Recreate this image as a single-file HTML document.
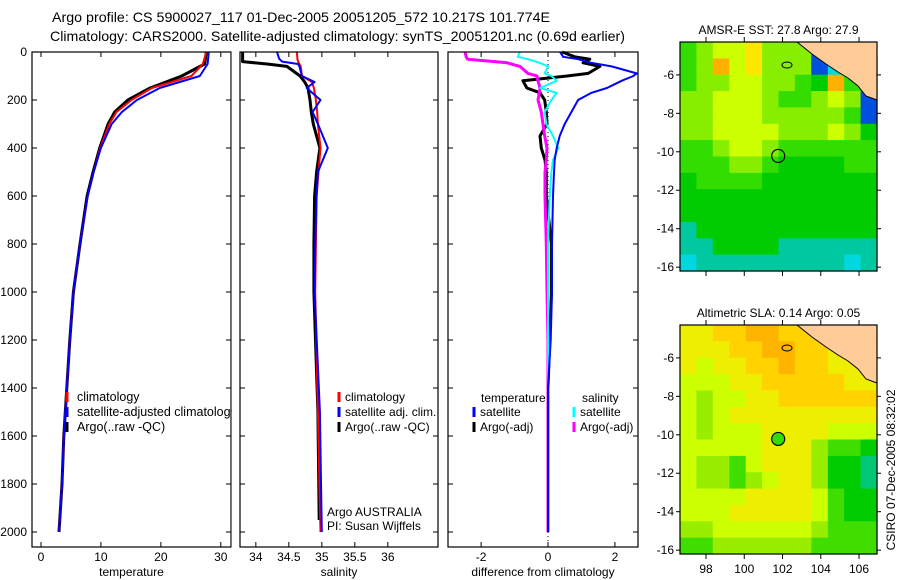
<!DOCTYPE html>
<html><head><meta charset="utf-8"><style>
body{margin:0;background:#fff;}
svg{display:block;font-family:"Liberation Sans",sans-serif;}
text{fill:#000;}
</style></head><body>
<svg id="fig" width="900" height="580" xmlns="http://www.w3.org/2000/svg">
<text x="52" y="22" font-size="14" textLength="498" lengthAdjust="spacingAndGlyphs">Argo profile: CS 5900027_117 01-Dec-2005 20051205_572 10.217S 101.774E</text>
<text x="50" y="41" font-size="14" textLength="575" lengthAdjust="spacingAndGlyphs">Climatology: CARS2000. Satellite-adjusted climatology: synTS_20051201.nc (0.69d earlier)</text>
<g id="g"></g>
</svg>
<script>
// ---- data ----
const tDepth = [0,50,100,150,200,250,300,400,500,600,800,1000,1200,1400,1600,1800,2000];
const tClim  = [27.6,27.0,25.1,18.5,15.1,12.6,11.4,9.9,8.8,7.8,6.5,5.4,4.8,4.3,3.8,3.5,3.0];
const tSat   = [28.0,27.8,26.5,19.8,16.0,13.5,11.8,10.0,8.8,7.8,6.5,5.4,4.8,4.3,3.8,3.5,3.0];
const tArgo  = [27.6,27.3,23.5,18.2,14.5,12.3,11.2,9.8,8.7,7.7,6.5,5.4,4.8,4.3,3.8,3.5,3.0];
const sDepth = [0,25,30,40,50,60,100,125,150,200,250,300,400,500,600,800,1000,1500,2000];
const sClim  = [34.62,34.63,34.63,34.64,34.66,34.68,34.70,34.85,34.88,34.91,34.93,34.94,34.98,34.95,34.92,34.91,34.90,34.94,34.98];
const sSat   = [34.32,34.35,34.36,34.40,34.64,34.66,34.70,34.89,34.77,34.98,34.86,34.94,35.09,34.94,34.92,34.90,34.89,34.97,35.00];
const sArgo  = [33.80,33.80,33.80,33.80,34.17,34.47,34.67,34.74,34.79,34.82,34.84,34.87,34.97,34.92,34.89,34.88,34.88,34.94,34.97];
const dDepth = [0,20,30,45,60,89,100,120,150,170,200,250,300,350,400,450,500,600,800,1000,1200,1400,1600,1800,2000];
const dTSat  = [0.36,0.45,0.9,1.3,1.9,2.65,2.55,2.2,1.76,1.3,0.9,0.7,0.5,0.35,0.26,0.2,0.18,0.15,0.12,0.12,0.08,0.0,0.0,0.0,0.0];
const dTArgo = [0.42,0.8,1.25,1.05,1.55,1.2,0.57,-0.75,-0.63,-0.24,-0.1,-0.05,-0.03,-0.24,-0.2,-0.09,-0.05,-0.05,0.1,0.1,0.05,0.0,0.0,0.0,0.0];
const dSSat  = [-0.84,-0.9,-0.6,-0.25,0.0,-0.1,0.1,0.26,-0.24,0.26,0.1,-0.1,-0.05,0.15,0.3,0.15,0.1,0.05,0.0,0.0,0.0,0.0,0.0,0.0,0.0];
const dSArgo = [-2.48,-2.45,-2.4,-1.22,-0.84,-0.6,-0.33,-0.3,-0.24,-0.26,-0.3,-0.2,-0.15,-0.1,-0.03,-0.05,-0.09,-0.09,-0.05,-0.03,0.0,0.0,0.0,0.0,0.0];
const depthTicks = [0,200,400,600,800,1000,1200,1400,1600,1800,2000];
const tTicks = [0,10,20,30];
const sTicks = [34,34.5,35,35.5,36];
const dTicks = [-2,0,2];
const sstGrid = [
[5,6,7,7,8,6,6,6,1,8,8,8],
[5,6,9,7,8,6,6,6,1,2,5,4],
[5,6,6,7,7,6,6,5,4,9,5,4],
[6,6,7,7,7,6,5,5,6,7,6,1],
[6,6,7,7,7,6,6,6,6,6,5,1],
[6,6,7,7,7,7,6,6,6,7,6,4],
[5,5,6,7,7,6,5,5,5,5,5,5],
[5,5,5,6,6,5,4,4,4,4,5,5],
[4,5,5,5,5,4,4,4,4,4,4,4],
[4,4,4,4,4,4,4,4,4,4,4,4],
[4,4,4,4,4,4,4,4,4,4,4,4],
[3,4,4,4,4,4,4,4,4,4,4,4],
[3,3,4,4,4,4,3,3,3,3,3,3],
[2,3,3,3,3,3,3,3,3,3,2,3]];
const slaGrid = [
[8,8,9,9,10,10,9,9,9,8,8,7],
[8,8,8,9,9,10,10,9,9,8,8,7],
[8,7,8,8,9,9,10,9,9,8,8,7],
[7,7,7,8,8,9,9,9,9,9,8,8],
[7,6,7,7,8,8,9,9,9,9,9,9],
[7,6,7,8,8,8,8,8,8,8,8,8],
[7,6,7,7,7,8,8,8,8,7,7,7],
[7,7,7,7,7,8,8,8,6,5,5,4],
[7,6,6,5,7,8,8,8,6,4,4,3],
[7,6,6,5,6,7,8,8,6,4,4,3],
[7,7,7,7,8,8,8,8,7,5,4,4],
[7,7,7,8,8,8,8,8,7,5,4,4],
[6,6,7,7,7,7,7,7,6,5,5,5],
[5,5,6,6,6,6,6,6,5,5,5,5]];
const lonTicks = [98,100,102,104,106];
const latTicks = [-6,-8,-10,-12,-14,-16];
const argoLon = 101.774, argoLat = -10.217;

const NS="http://www.w3.org/2000/svg";
const G=document.getElementById('g');
function el(tag,attrs,parent){const e=document.createElementNS(NS,tag);for(const k in attrs)e.setAttribute(k,attrs[k]);(parent||G).appendChild(e);return e;}
function txt(x,y,s,attrs,parent){const e=el('text',Object.assign({x:x,y:y,'font-size':12},attrs||{}),parent);e.textContent=s;return e;}

const Y0=52, PXM=0.24;
const yD=d=>Y0+d*PXM;
const PT=52, PB=547;

function panel(name,x0,x1,xmin,xmax,ticks,fmt,label){
  const g=el('g',{});
  
  
  const sx=v=>x0+(v-xmin)/(xmax-xmin)*(x1-x0);
  ticks.forEach(t=>{const x=sx(t);
    el('line',{x1:x,x2:x,y1:PB,y2:PB-5,stroke:'#000'},g);
    el('line',{x1:x,x2:x,y1:PT,y2:PT+5,stroke:'#000'},g);
    const l=txt(x,PB+14,fmt(t),{'text-anchor':'middle'},g);
    
    
  });
  depthTicks.forEach(d=>{const y=yD(d);
    el('line',{x1:x0,x2:x0+5,y1:y,y2:y,stroke:'#000'},g);
    el('line',{x1:x1,x2:x1-5,y1:y,y2:y,stroke:'#000'},g);
  });
  const xl=txt((x0+x1)/2,PB+29,label,{'text-anchor':'middle'},g);
  
  
  return {g,sx};
}
function line(p,vals,depths,color,w,name){
  const pts=vals.map((v,i)=>p.sx(v).toFixed(1)+','+yD(depths[i]).toFixed(1)).join(' ');
  const e=el('polyline',{points:pts,fill:'none',stroke:color,'stroke-width':w,'stroke-linejoin':'round'},p.g);
  
  
}
function frame(p,x0,x1){el('rect',{x:x0,y:PT,width:x1-x0,height:PB-PT,fill:'none',stroke:'#000','stroke-width':1.2},p.g);}
function legend(p,x,y,color,label,name,gap,fs){
  const e=el('g',{},p.g);
  
  
  el('line',{x1:x,x2:x,y1:y-9,y2:y+1,stroke:color,'stroke-width':3},e);
  txt(x+(gap||6),y,label,{'font-size':fs||12},e);
}

depthTicks.forEach(d=>{const l=txt(27,yD(d)+4,String(d),{'text-anchor':'end'});
  
  });

const p1=panel('temperature-panel',32,231,-1.5,31.7,tTicks,String,'temperature');
line(p1,tArgo,tDepth,'#000',3,'argo-temperature-line');
line(p1,tClim,tDepth,'#f00',2,'climatology-temperature-line');
line(p1,tSat,tDepth,'#00f',2,'satellite-temperature-line');
legend(p1,67,401,'#f00','climatology','legend-climatology',10,12.5);
legend(p1,67,416,'#00f','satellite-adjusted climatology','legend-satellite',10,12.5);
legend(p1,67,431,'#000','Argo(..raw -QC)','legend-argo',10,12.5);
frame(p1,32,231);

const p2=panel('salinity-panel',240,438,33.76,36.76,sTicks,t=>String(t),'salinity');
el('rect',{x:231.6,y:PT-2,width:8,height:PB-PT+4,fill:'#fff'},p2.g);
line(p2,sArgo.slice(0,18).concat([34.96]),sDepth.slice(0,18).concat([1950]),'#000',3,'argo-salinity-line');
line(p2,sClim,sDepth,'#f00',2,'climatology-salinity-line');
line(p2,sSat,sDepth,'#00f',2,'satellite-salinity-line');
legend(p2,339,401,'#f00','climatology','legend-sal-climatology');
legend(p2,339,416,'#00f','satellite adj. clim.','legend-sal-satellite');
legend(p2,339,431,'#000','Argo(..raw -QC)','legend-sal-argo');
txt(327,516,'Argo AUSTRALIA',{});
txt(327,530,'PI: Susan Wijffels',{});
frame(p2,240,438);

const p3=panel('difference-panel',448,638,-2.99,2.69,dTicks,String,'difference from climatology');
el('line',{x1:p3.sx(0),x2:p3.sx(0),y1:PT,y2:PB,stroke:'#000','stroke-dasharray':'1,3'},p3.g);
line(p3,dTArgo,dDepth,'#000',3,'argo-temperature-diff-line');
line(p3,dSArgo,dDepth,'#f0f',3,'argo-salinity-diff-line');
line(p3,dSSat,dDepth,'#0ff',2,'satellite-salinity-diff-line');
line(p3,dTSat,dDepth,'#00f',2,'satellite-temperature-diff-line');
txt(481,402,'temperature',{});
txt(582,402,'salinity',{});
legend(p3,474,416,'#00f','satellite','legend-diff-temp-satellite');
legend(p3,474,431,'#000','Argo(-adj)','legend-diff-temp-argo');
legend(p3,574,416,'#0ff','satellite','legend-diff-sal-satellite');
legend(p3,574,431,'#f0f','Argo(-adj)','legend-diff-sal-argo');
frame(p3,448,638);

const pal=['#000080','#0050e0','#00d8e0','#00c8a0','#00cc00','#33dd00','#88ee00','#ccff00','#ffe600','#ffb000','#e05000'];
const slaPal=['#000080','#0050e0','#00d8e0','#00c878','#00cc00','#40dd00','#99ee00','#ccff00','#eeee00','#ffd200','#ffb400'];
const LON0=96.64,LON1=106.94,LAT0=-4.29,LAT1=-16.2;
function map(name,top,grid,palette,title,filledDot,xlabels){
  const g=el('g',{});
  
  
  const L=680,R=877,B=top+229;
  const sx=lon=>L+(lon-LON0)/(LON1-LON0)*(R-L);
  const sy=lat=>top+(lat-LAT0)/(LAT1-LAT0)*(B-top);
  const rows=grid.length, cols=grid[0].length;
  const cw=(R-L)/cols, ch=(B-top)/rows;
  grid.forEach((row,r)=>row.forEach((v,c)=>{
    const e=el('rect',{x:(L+c*cw).toFixed(1),y:(top+r*ch).toFixed(1),width:(cw+0.6).toFixed(1),height:(ch+0.6).toFixed(1),fill:palette[v]},g);
    
    
  }));
  const land=el('polygon',{points:[[797,top],[R,top],[R,top+58],[866,top+54],[858,top+44],[848,top+36],[838,top+30],[826,top+22],[812,top+12]].map(p=>p.join(',')).join(' '),fill:'#ffcc99',stroke:'#000','stroke-width':1},g);
  
  
  el('ellipse',{cx:787,cy:top+23,rx:5,ry:3,fill:'none',stroke:'#000'},g);
  const dot=el('circle',{cx:sx(argoLon),cy:sy(argoLat),r:6.5,fill:filledDot?'#33dd00':'none',stroke:'#000','stroke-width':1.2},g);
  
  
  el('rect',{x:L,y:top,width:R-L,height:B-top,fill:'none',stroke:'#000','stroke-width':1.2},g);
  lonTicks.forEach(t=>{const x=sx(t);
    el('line',{x1:x,x2:x,y1:B,y2:B+5,stroke:'#000'},g);
    el('line',{x1:x,x2:x,y1:top,y2:top-5,stroke:'#000'},g);
    if(xlabels){const l=txt(x,B+19,String(t),{'text-anchor':'middle'},g);
      
      }
  });
  latTicks.forEach(t=>{const y=sy(t);
    el('line',{x1:L,x2:L-4,y1:y,y2:y,stroke:'#000'},g);
    el('line',{x1:R,x2:R+4,y1:y,y2:y,stroke:'#000'},g);
    const l=txt(L-6,y+4,String(t),{'text-anchor':'end'},g);
    
    
  });
  const tt=txt((L+R)/2,top-8,title,{'text-anchor':'middle'},g);
  
  
}
map('sst-map',42,sstGrid,pal,'AMSR-E SST: 27.8 Argo: 27.9',false,false);
map('sla-map',325,slaGrid,slaPal,'Altimetric SLA: 0.14 Argo: 0.05',true,true);
const cs=txt(0,0,'CSIRO 07-Dec-2005 08:32:02',{'text-anchor':'middle',transform:'translate(895,470) rotate(-90)'});


</script>
</body></html>
